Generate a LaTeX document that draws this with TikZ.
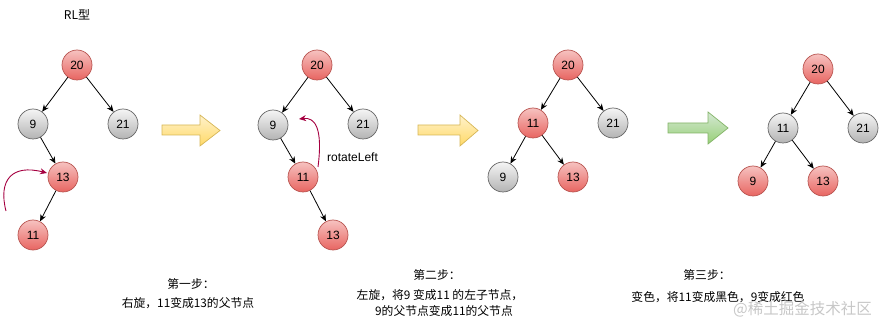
\documentclass[tikz,border=0pt]{standalone}
\usepackage{fontspec}
\setmainfont{Liberation Sans}
\newfontfamily\cjk{Noto Sans CJK SC}
\usetikzlibrary{arrows.meta}
\definecolor{redline}{HTML}{B85450}
\definecolor{redtop}{HTML}{F6C2C0}
\definecolor{redbot}{HTML}{E86561}
\definecolor{grayline}{HTML}{666666}
\definecolor{graytop}{HTML}{F5F5F5}
\definecolor{graybot}{HTML}{B3B3B3}
\definecolor{rotc}{HTML}{A50040}
\definecolor{yline}{HTML}{D6B656}
\definecolor{ytop}{HTML}{FFF2CC}
\definecolor{ybot}{HTML}{FFD966}
\definecolor{gline}{HTML}{82B366}
\definecolor{gtop}{HTML}{D5E8D4}
\definecolor{gbot}{HTML}{97D077}
\tikzset{
  rednode/.style={circle,minimum size=30pt,inner sep=0pt,draw=redline,line width=0.7pt,
    top color=redtop,bottom color=redbot,font=\fontsize{12}{14}\selectfont},
  graynode/.style={circle,minimum size=30pt,inner sep=0pt,draw=grayline,line width=0.7pt,
    top color=graytop,bottom color=graybot,font=\fontsize{12}{14}\selectfont},
  edgearrow/.style={-{Stealth[length=7pt,width=6pt]},line width=0.8pt,black},
  rotarrow/.style={-{Stealth[length=7pt,width=6pt]},line width=0.9pt,draw=rotc},
  yarrow/.style={draw=yline,line width=0.7pt,top color=ytop,bottom color=ybot},
  garrow/.style={draw=gline,line width=0.7pt,top color=gtop,bottom color=gbot},
  cjktext/.style={font=\cjk\fontsize{11.8}{14}\selectfont,inner sep=0pt},
  labeltext/.style={font=\fontsize{12}{14}\selectfont,inner sep=0pt}
}
\begin{document}
\begin{tikzpicture}[x=1pt,y=-1pt]
\useasboundingbox (0,0) rectangle (879,323);

% title
\node[cjktext,font=\cjk\fontsize{12}{14}\selectfont] (title) at (77,15) {RL型};

% panel 1
\node[rednode] (a20) at (77,65) {20};
\node[graynode] (a9) at (33,124) {9};
\node[graynode] (a21) at (123,124) {21};
\node[rednode] (a13) at (63,177) {13};
\node[rednode] (a11) at (33,235) {11};
\draw[edgearrow] (a20) -- (a9);
\draw[edgearrow] (a20) -- (a21);
\draw[edgearrow] (a9) -- (a13);
\draw[edgearrow] (a13) -- (a11);
\coordinate (r1s) at (6,211);
\coordinate (r1e) at (47,173);
\draw[rotarrow] (r1s) .. controls (-2,180) and (12,164) .. (r1e);

% arrow 1
\path[yarrow] (162,125) -- (200,125) -- (200,115) -- (220,130.5) -- (200,146) -- (200,135) -- (162,135) -- cycle;

% panel 2
\node[rednode] (b20) at (317,65) {20};
\node[graynode] (b9) at (273,125) {9};
\node[graynode] (b21) at (363,124) {21};
\node[rednode] (b11) at (303,177) {11};
\node[rednode] (b13) at (333,235) {13};
\draw[edgearrow] (b20) -- (b9);
\draw[edgearrow] (b20) -- (b21);
\draw[edgearrow] (b9) -- (b11);
\draw[edgearrow] (b11) -- (b13);
\coordinate (r2s) at (318,167);
\coordinate (r2e) at (299,119);
\draw[rotarrow] (r2s) .. controls (323,128) and (315,117) .. (r2e);
\node[labeltext,anchor=west] (rl) at (327,157) {rotateLeft};

% arrow 2
\path[yarrow] (418,125) -- (460,125) -- (460,115) -- (478,130.5) -- (460,146) -- (460,135) -- (418,135) -- cycle;

% panel 3
\node[rednode] (c20) at (568,65) {20};
\node[rednode] (c11) at (533,123) {11};
\node[graynode] (c21) at (613,123) {21};
\node[graynode] (c9) at (503,177) {9};
\node[rednode] (c13) at (573,177) {13};
\draw[edgearrow] (c20) -- (c11);
\draw[edgearrow] (c20) -- (c21);
\draw[edgearrow] (c11) -- (c9);
\draw[edgearrow] (c11) -- (c13);

% arrow 3
\path[garrow] (668,123) -- (708,123) -- (708,112) -- (728,128) -- (708,144) -- (708,133) -- (668,133) -- cycle;

% panel 4
\node[rednode] (d20) at (818,69) {20};
\node[graynode] (d11) at (783,128) {11};
\node[graynode] (d21) at (863,128) {21};
\node[rednode] (d9) at (753,181) {9};
\node[rednode] (d13) at (823,181) {13};
\draw[edgearrow] (d20) -- (d11);
\draw[edgearrow] (d20) -- (d21);
\draw[edgearrow] (d11) -- (d9);
\draw[edgearrow] (d11) -- (d13);

% captions
\node[cjktext] (s1a) at (191,284) {第一步：};
\node[cjktext] (s1b) at (188,303) {右旋，11变成13的父节点};
\node[cjktext] (s2a) at (437,275) {第二步：};
\node[cjktext] (s2b) at (440,295) {左旋，将9 变成11 的左子节点，};
\node[cjktext] (s2c) at (444,311) {9的父节点变成11的父节点};
\node[cjktext] (s3a) at (707,275) {第三步：};
\node[cjktext] (s3b) at (718,297) {变色，将11变成黑色，9变成红色};

% watermark
\node[font=\cjk\fontsize{15.5}{17}\selectfont,text=black!22,inner sep=0pt,anchor=east] (wm) at (872,309) {@稀土掘金技术社区};
\end{tikzpicture}
\end{document}
